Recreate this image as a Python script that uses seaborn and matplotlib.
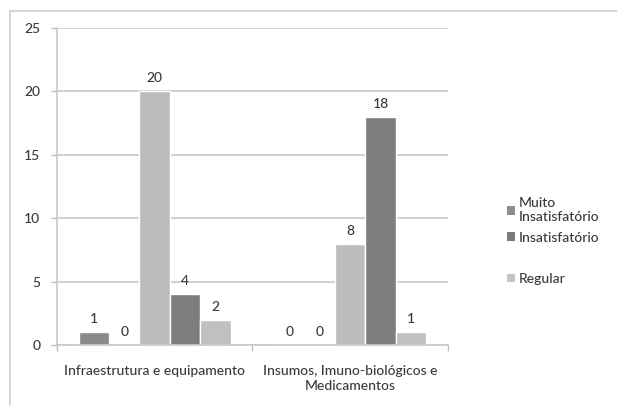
import matplotlib
matplotlib.use("Agg")
import matplotlib.pyplot as plt
import matplotlib.patches as mpatches
import seaborn as sns
import pandas as pd

# Categories and per-series counts
categories = ["Infraestrutura e equipamento", "Insumos, Imuno-biológicos e\nMedicamentos"]
series = ["Série 1", "Série 2", "Série 3", "Série 4", "Série 5"]
values = {
    "Série 1": [1, 0],
    "Série 2": [0, 0],
    "Série 3": [20, 8],
    "Série 4": [4, 18],
    "Série 5": [2, 1],
}
colors = ["#8a8a8a", "#8a8a8a", "#bcbcbc", "#7e7e7e", "#c0c0c0"]
legend_labels = ["Muito\nInsatisfatório", "Insatisfatório", "", "Regular"]
legend_colors = ["#8e8e8e", "#7a7a7a", "none", "#c4c4c4"]
yticks = [0, 5, 10, 15, 20, 25]

rows = []
for s in series:
    for c, v in zip(categories, values[s]):
        rows.append({"categoria": c, "serie": s, "valor": v})
df = pd.DataFrame(rows)

sns.set_theme(style="white")
plt.rcParams["font.family"] = ["Lato", "DejaVu Sans"]
plt.rcParams["font.weight"] = "medium"
text_color = "#3a3a3a"
fs = 10

fig = plt.figure(figsize=(6.17, 4.05), dpi=100)
ax = fig.add_axes([0.0924, 0.148, 0.726 - 0.0924, 0.931 - 0.148])

sns.barplot(data=df, x="categoria", y="valor", hue="serie", hue_order=series,
            order=categories, palette=colors, width=0.78, gap=0,
            saturation=1, legend=False, ax=ax, errorbar=None)

for cont in ax.containers:
    ax.bar_label(cont, padding=5, fontsize=fs, color=text_color)

ax.set_ylim(0, 25)
ax.set_xlim(-0.5, 1.5)
ax.set_yticks(yticks)
ax.set_yticklabels([str(t) for t in yticks], fontsize=fs, color=text_color)
ax.set_xlabel("")
ax.set_ylabel("")
ax.tick_params(axis="x", labelsize=fs, labelcolor=text_color, length=0, pad=14)
for lbl in ax.get_xticklabels():
    lbl.set_linespacing(1.35)
ax.tick_params(axis="y", length=4, color="#bdbdbd", width=1, pad=8, left=True)
ax.yaxis.grid(True, color="#c8c8c8", linewidth=1.2)
ax.set_axisbelow(True)
for side in ["top", "right"]:
    ax.spines[side].set_visible(False)
ax.spines["left"].set_color("#c8c8c8")
ax.spines["bottom"].set_color("#c8c8c8")
ax.spines["left"].set_linewidth(1.2)
ax.spines["bottom"].set_linewidth(1.2)

# Minor ticks below the baseline, between categories
ax.set_xticks([-0.5, 0.5, 1.5], minor=True)
ax.tick_params(axis="x", which="minor", length=4, color="#bdbdbd", bottom=True)

handles = [mpatches.Patch(facecolor=c, edgecolor="none") for c in legend_colors]
leg = fig.legend(handles, legend_labels, loc="upper left",
                 bbox_to_anchor=(0.812, 0.527), frameon=False,
                 fontsize=fs, handlelength=0.6, handleheight=0.6,
                 handletextpad=0.25, labelspacing=0.62, borderaxespad=0)
for t in leg.get_texts():
    t.set_color(text_color)

# Chart-area border
border = mpatches.Rectangle((10 / 617, -0.1), 1.2, 1 - 11 / 405 + 0.1,
                            transform=fig.transFigure, fill=False,
                            edgecolor="#cfcfcf", linewidth=1.2)
fig.patches.append(border)

fig.savefig("out.png", dpi=100)
